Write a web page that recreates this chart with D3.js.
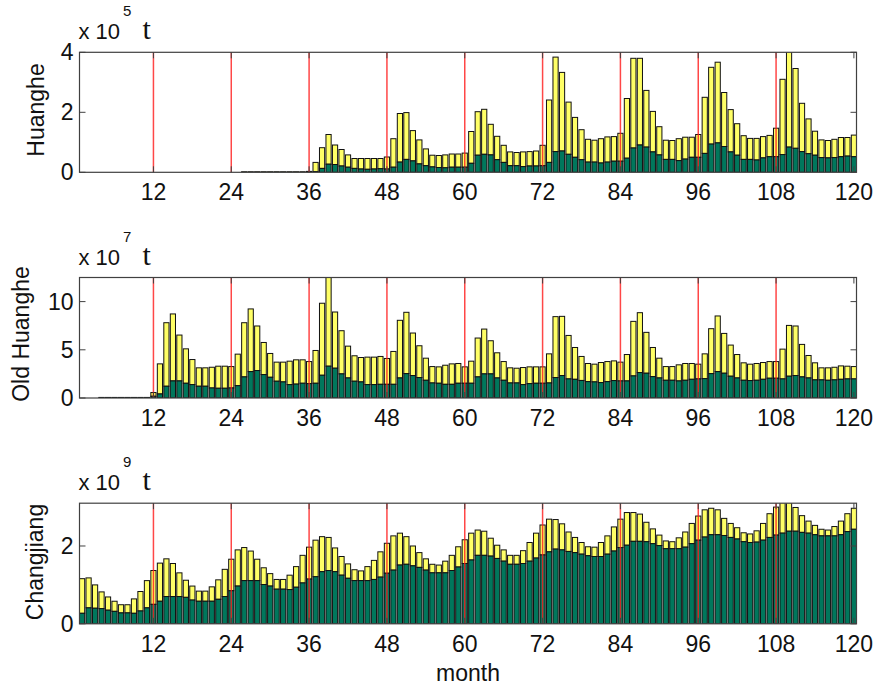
<!DOCTYPE html>
<html>
<head>
<meta charset="utf-8">
<script src="https://cdn.jsdelivr.net/npm/d3@7"></script>
<style>
  html, body { margin: 0; padding: 0; background: #ffffff; }
  svg { display: block; }
</style>
</head>
<body>
<svg id="chart" width="878" height="686"></svg>
<script>
// ---------------- DATA ----------------
const months = d3.range(1, 121);
const xTickValues = [12, 24, 36, 48, 60, 72, 84, 96, 108, 120];
const yearMarks = [12, 24, 36, 48, 60, 72, 84, 96, 108];
const panelNames = ["Huanghe", "Old Huanghe", "Changjiang"];
const panelExponents = ["5", "7", "9"];
const unitLabel = "t";
const xLabel = "month";

// Huanghe (x 10^5 t): total stacked height and lower (green) component
const huangheTotal = [
  0,0,0,0,0,0,0,0,0,0,0,0,
  0,0,0,0,0,0,0,0,0,0,0,0,
  0,0.015,0.015,0.015,0.015,0.015,0.015,0.015,0.015,0.015,0.015,0.03,
  0.33,0.82,1.26,0.91,0.76,0.58,0.46,0.46,0.46,0.46,0.46,0.51,
  1.12,1.96,1.99,1.39,1.08,0.78,0.57,0.56,0.58,0.61,0.61,0.64,
  1.36,2.02,2.10,1.60,1.20,0.90,0.68,0.66,0.68,0.69,0.71,0.90,
  2.41,3.84,3.33,2.34,1.83,1.42,1.10,1.07,1.12,1.18,1.19,1.30,
  2.46,3.80,3.80,2.73,2.03,1.52,1.07,1.06,1.12,1.17,1.17,1.26,
  2.50,3.50,3.67,2.66,2.09,1.62,1.22,1.13,1.13,1.19,1.23,1.47,
  3.10,4.30,3.46,2.30,1.78,1.37,1.08,1.06,1.10,1.16,1.16,1.24
];
const huangheGreen = [
  0,0,0,0,0,0,0,0,0,0,0,0,
  0,0,0,0,0,0,0,0,0,0,0,0,
  0,0.005,0.005,0.005,0.005,0.005,0.005,0.005,0.005,0.005,0.005,0.01,
  0.02,0.13,0.27,0.26,0.21,0.17,0.13,0.11,0.10,0.11,0.12,0.11,
  0.17,0.34,0.43,0.38,0.28,0.22,0.18,0.16,0.15,0.17,0.17,0.17,
  0.30,0.57,0.60,0.58,0.42,0.33,0.22,0.22,0.19,0.21,0.21,0.22,
  0.33,0.69,0.71,0.60,0.50,0.42,0.34,0.34,0.31,0.34,0.37,0.37,
  0.47,0.81,0.91,0.84,0.68,0.58,0.43,0.43,0.39,0.44,0.50,0.50,
  0.63,0.94,0.98,0.86,0.68,0.57,0.43,0.43,0.41,0.48,0.52,0.52,
  0.59,0.84,0.80,0.69,0.62,0.57,0.49,0.48,0.49,0.52,0.54,0.52
];

// Old Huanghe (x 10^7 t)
const oldHuangheTotal = [
  0,0,0,0.06,0.06,0.06,0.06,0.06,0.06,0.06,0.06,0.57,
  3.54,7.81,8.72,6.53,5.10,3.99,3.13,3.13,3.19,3.30,3.30,3.26,
  4.55,7.81,9.24,7.47,5.76,4.62,3.72,3.72,3.82,3.96,3.96,3.78,
  4.93,9.83,13.5,8.92,6.98,5.38,4.38,4.20,4.24,4.24,4.31,4.10,
  4.83,8.06,8.89,6.74,5.42,4.13,3.26,3.23,3.40,3.54,3.58,3.23,
  3.82,6.22,7.15,5.94,4.69,3.78,3.13,3.09,3.16,3.23,3.23,3.23,
  4.58,8.44,8.47,6.49,5.24,4.31,3.58,3.51,3.68,3.78,3.85,3.72,
  4.51,7.95,8.85,6.81,5.24,4.13,3.26,3.26,3.44,3.58,3.58,3.51,
  4.58,7.19,8.51,6.70,5.49,4.51,3.65,3.51,3.58,3.68,3.78,3.78,
  5.07,7.53,7.47,5.56,4.41,3.65,3.13,3.13,3.19,3.33,3.30,3.26
];
const oldHuangheGreen = [
  0,0,0,0.02,0.02,0.02,0.02,0.02,0.02,0.02,0.02,0.18,
  0.42,1.22,1.77,1.77,1.53,1.39,1.22,1.22,1.04,1.01,1.01,1.04,
  1.28,2.19,2.74,2.85,2.43,2.15,1.74,1.67,1.39,1.44,1.53,1.49,
  1.53,2.36,3.30,3.09,2.50,2.08,1.74,1.67,1.39,1.39,1.42,1.42,
  1.42,2.08,2.53,2.33,2.12,1.84,1.56,1.53,1.42,1.42,1.53,1.53,
  1.53,2.19,2.50,2.50,2.08,1.84,1.56,1.56,1.39,1.49,1.53,1.53,
  1.56,2.12,2.33,1.98,1.94,1.82,1.70,1.67,1.60,1.70,1.81,1.77,
  1.77,2.29,2.64,2.57,2.22,2.08,1.84,1.84,1.77,1.84,1.94,1.98,
  2.01,2.53,2.74,2.57,2.26,2.08,1.84,1.81,1.84,1.94,2.05,2.05,
  1.98,2.26,2.33,2.19,2.08,1.88,1.88,1.84,1.88,1.94,1.98,1.98
];

// Changjiang (x 10^9 t)
const changjiangTotal = [
  1.16,1.18,1.00,0.82,0.69,0.58,0.49,0.49,0.64,0.83,1.11,1.37,
  1.56,1.67,1.55,1.31,1.12,0.97,0.84,0.84,0.95,1.13,1.40,1.66,
  1.90,1.96,1.87,1.66,1.44,1.29,1.14,1.14,1.25,1.47,1.76,1.97,
  2.15,2.24,2.22,1.95,1.73,1.54,1.39,1.36,1.47,1.63,1.85,2.07,
  2.26,2.33,2.24,2.00,1.83,1.67,1.53,1.51,1.61,1.76,1.98,2.16,
  2.33,2.41,2.38,2.20,2.02,1.90,1.76,1.76,1.88,2.09,2.33,2.54,
  2.69,2.68,2.57,2.36,2.22,2.09,1.98,1.97,2.09,2.26,2.49,2.69,
  2.86,2.86,2.82,2.61,2.44,2.28,2.13,2.11,2.21,2.36,2.58,2.77,
  2.93,2.97,2.93,2.71,2.58,2.47,2.34,2.31,2.39,2.58,2.83,3.00,
  3.15,3.15,2.99,2.78,2.64,2.53,2.43,2.41,2.50,2.64,2.83,2.97
];
const changjiangGreen = [
  0.27,0.41,0.40,0.39,0.35,0.32,0.28,0.28,0.27,0.33,0.41,0.50,
  0.58,0.70,0.70,0.70,0.68,0.61,0.58,0.58,0.58,0.63,0.70,0.85,
  0.97,1.11,1.11,1.11,1.01,0.97,0.89,0.89,0.88,0.94,1.05,1.15,
  1.21,1.34,1.37,1.34,1.25,1.17,1.11,1.11,1.11,1.14,1.20,1.30,
  1.38,1.51,1.53,1.49,1.45,1.38,1.31,1.31,1.31,1.37,1.46,1.55,
  1.64,1.76,1.76,1.74,1.68,1.61,1.53,1.53,1.55,1.61,1.69,1.77,
  1.85,1.92,1.90,1.86,1.83,1.79,1.75,1.73,1.73,1.79,1.87,1.96,
  2.02,2.12,2.12,2.11,2.06,2.01,1.93,1.93,1.93,1.97,2.06,2.15,
  2.23,2.29,2.29,2.27,2.22,2.18,2.11,2.09,2.10,2.15,2.22,2.28,
  2.33,2.38,2.38,2.35,2.33,2.29,2.26,2.26,2.26,2.29,2.37,2.43
];

const panelTotals = [huangheTotal, oldHuangheTotal, changjiangTotal];
const panelGreens = [huangheGreen, oldHuangheGreen, changjiangGreen];
const panelYMax = [4, 12.5, 3.1];
const panelYTicks = [[0, 2, 4], [0, 5, 10], [0, 2]];

// ---------------- LAYOUT / STYLE ----------------
const layout = {
  left: 79.5, right: 856.5,
  tops: [52.3, 277.5, 503.2],
  bottoms: [172.3, 398, 623.8],
  ylabelX: [44, 29, 43],
  ylabelY: [110, 334, 562]
};
const colors = {
  green: "#00775c", yellow: "#ffff66", edge: "#111111",
  red: "#ff1a1a", axis: "#404040", text: "#111111"
};
const FONT = "'Liberation Sans', Arial, Helvetica, sans-serif";

const svg = d3.select("#chart");
svg.append("rect").attr("width", 878).attr("height", 686).attr("fill", "#fff");

const x = d3.scaleLinear().domain([0.6, 120.4]).range([layout.left, layout.right]);
const bw = 0.8 * (x(2) - x(1));

panelNames.forEach((name, p) => {
  const top = layout.tops[p], bottom = layout.bottoms[p];
  const y = d3.scaleLinear().domain([0, panelYMax[p]]).range([bottom, top]);
  const g = svg.append("g");

  const clipId = "clip" + p;
  svg.append("clipPath").attr("id", clipId)
    .append("rect").attr("x", layout.left).attr("y", top)
    .attr("width", layout.right - layout.left).attr("height", bottom - top);

  const bars = g.append("g").attr("clip-path", `url(#${clipId})`);
  const rows = months.map((m, i) => ({ m, total: panelTotals[p][i], green: panelGreens[p][i] }));

  // yellow (upper) component
  bars.selectAll("rect.yel").data(rows).join("rect")
    .attr("class", "yel")
    .attr("x", d => x(d.m) - bw / 2)
    .attr("width", bw)
    .attr("y", d => y(d.total))
    .attr("height", d => Math.max(0, y(d.green) - y(d.total)))
    .attr("fill", colors.yellow)
    .attr("stroke", colors.edge).attr("stroke-width", 1);

  // green (lower) component
  bars.selectAll("rect.grn").data(rows).join("rect")
    .attr("class", "grn")
    .attr("x", d => x(d.m) - bw / 2)
    .attr("width", bw)
    .attr("y", d => y(d.green))
    .attr("height", d => Math.max(0, y(0) - y(d.green)))
    .attr("fill", colors.green)
    .attr("stroke", colors.edge).attr("stroke-width", 1);

  // red year separators
  g.selectAll("line.yr").data(yearMarks).join("line")
    .attr("x1", d => x(d)).attr("x2", d => x(d))
    .attr("y1", top).attr("y2", bottom)
    .attr("stroke", colors.red).attr("stroke-width", 1.5).attr("opacity", 0.8);

  // axis box
  g.append("rect")
    .attr("x", layout.left).attr("y", top)
    .attr("width", layout.right - layout.left).attr("height", bottom - top)
    .attr("fill", "none").attr("stroke", colors.axis).attr("stroke-width", 1.2);

  const tl = 6;
  // x ticks (inward, bottom & top)
  g.selectAll("line.xtb").data(xTickValues).join("line")
    .attr("x1", d => x(d)).attr("x2", d => x(d))
    .attr("y1", bottom).attr("y2", bottom - tl)
    .attr("stroke", colors.axis).attr("stroke-width", 1);
  g.selectAll("line.xtt").data(xTickValues).join("line")
    .attr("x1", d => x(d)).attr("x2", d => x(d))
    .attr("y1", top).attr("y2", top + tl)
    .attr("stroke", colors.axis).attr("stroke-width", 1);
  // y ticks (inward, left & right)
  g.selectAll("line.ytl").data(panelYTicks[p]).join("line")
    .attr("x1", layout.left).attr("x2", layout.left + tl)
    .attr("y1", d => y(d)).attr("y2", d => y(d))
    .attr("stroke", colors.axis).attr("stroke-width", 1);
  g.selectAll("line.ytr").data(panelYTicks[p]).join("line")
    .attr("x1", layout.right).attr("x2", layout.right - tl)
    .attr("y1", d => y(d)).attr("y2", d => y(d))
    .attr("stroke", colors.axis).attr("stroke-width", 1);

  // x tick labels
  g.selectAll("text.xl").data(xTickValues).join("text")
    .attr("x", d => x(d)).attr("y", bottom + 28)
    .attr("text-anchor", "middle")
    .attr("font-family", FONT).attr("font-size", 23).attr("fill", colors.text)
    .text(d => d);
  // y tick labels
  g.selectAll("text.yl").data(panelYTicks[p]).join("text")
    .attr("x", layout.left - 6).attr("y", d => y(d) + 8)
    .attr("text-anchor", "end")
    .attr("font-family", FONT).attr("font-size", 23).attr("fill", colors.text)
    .text(d => d);

  // y label
  g.append("text")
    .attr("transform", `translate(${layout.ylabelX[p]},${layout.ylabelY[p]}) rotate(-90)`)
    .attr("text-anchor", "middle")
    .attr("font-family", FONT).attr("font-size", 23).attr("fill", colors.text)
    .text(name);

  // multiplier "x 10^n t"
  const mx = g.append("text").attr("x", layout.left - 1).attr("y", top - 13)
    .attr("font-family", FONT).attr("font-size", 22).attr("fill", colors.text);
  mx.append("tspan").text("x 10");
  mx.append("tspan").attr("dx", 3).attr("dy", -23).attr("font-size", 15).text(panelExponents[p]);
  g.append("text").attr("x", layout.left + 63).attr("y", top - 13)
    .attr("font-family", "'Liberation Serif', 'Times New Roman', serif")
    .attr("font-size", 30).attr("fill", colors.text)
    .text(unitLabel);
});

svg.append("text")
  .attr("x", (layout.left + layout.right) / 2).attr("y", 681)
  .attr("text-anchor", "middle")
  .attr("font-family", FONT).attr("font-size", 23).attr("fill", colors.text)
  .text(xLabel);
</script>
</body>
</html>
